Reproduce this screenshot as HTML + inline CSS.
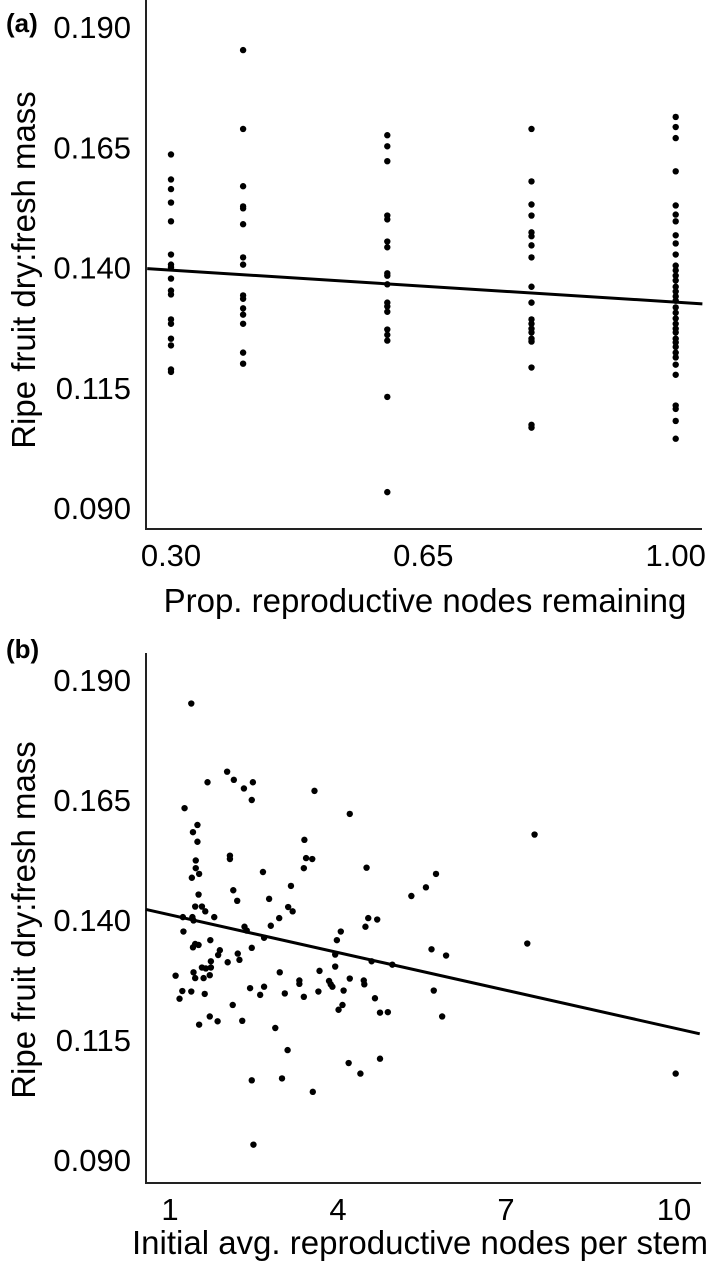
<!DOCTYPE html>
<html><head><meta charset="utf-8"><style>
html,body{margin:0;padding:0;background:#fff;}
svg{display:block;font-family:"Liberation Sans",Arial,sans-serif;}
</style></head><body>
<svg id="fig" width="709" height="1262" viewBox="0 0 709 1262" xmlns="http://www.w3.org/2000/svg">
<text x="6" y="32" font-size="26" font-weight="bold">(a)</text>
<text x="6" y="658" font-size="26" font-weight="bold">(b)</text>
<text transform="translate(35,270) rotate(-90)" text-anchor="middle" font-size="33">Ripe fruit dry:fresh mass</text>
<text transform="translate(35,920) rotate(-90)" text-anchor="middle" font-size="33">Ripe fruit dry:fresh mass</text>
<text x="425" y="612" text-anchor="middle" font-size="33">Prop. reproductive nodes remaining</text>
<text x="420" y="1254" text-anchor="middle" font-size="33">Initial avg. reproductive nodes per stem</text>
<g id="pa"></g>
<g id="pb"></g>
</svg>
<script>
const yTicks = [0.190, 0.165, 0.140, 0.115, 0.090];
const aTicks = [0.30, 0.65, 1.00];
const bTicks = [1, 4, 7, 10];
const aGroups = [0.3, 0.4, 0.6, 0.8, 1.0];
const aVals03 = [0.1635,0.1583,0.1563,0.1535,0.1496,0.1427,0.1406,0.140,0.1377,0.1352,0.1344,0.1292,0.1283,0.1252,0.1238,0.1188,0.1183];
const aVals04 = [0.1852,0.1688,0.1569,0.1527,0.1523,0.1490,0.1421,0.1406,0.1342,0.1335,0.1315,0.1302,0.1283,0.1223,0.1200];
const aVals06 = [0.1675,0.1652,0.1621,0.1508,0.1500,0.1454,0.1442,0.1388,0.1383,0.1365,0.1327,0.1319,0.1308,0.1271,0.1260,0.1248,0.1131,0.0933];
const aVals08 = [0.1688,0.1579,0.1531,0.1508,0.1473,0.1465,0.1446,0.1421,0.1360,0.1327,0.1292,0.1283,0.1273,0.1265,0.1252,0.1246,0.1192,0.1073,0.1067];
const aVals10 = [0.1713,0.1692,0.1669,0.1600,0.1529,0.1510,0.1496,0.1467,0.1450,0.1427,0.1404,0.1394,0.1383,0.1373,0.1360,0.1350,0.1340,0.1331,0.1317,0.1306,0.1294,0.1283,0.1273,0.1265,0.1252,0.1244,0.1235,0.1223,0.1213,0.1198,0.1177,0.1113,0.1106,0.1081,0.1044];
const aFit = [0.1423, -0.0095];
const bX = [1.38,1.26,1.67,2.02,2.14,2.32,2.48,2.46,3.58,4.21,1.49,1.41,1.49,3.40,3.43,3.54,3.39,4.51,2.07,2.07,1.46,1.46,1.52,1.39,2.66,5.75,5.57,5.31,3.16,2.13,2.20,2.77,1.51,1.45,1.57,1.63,1.79,3.11,3.19,2.95,1.23,1.40,1.42,2.80,2.33,2.37,4.54,4.70,4.49,1.24,4.05,3.98,2.68,1.72,1.45,1.51,1.41,2.46,1.89,1.86,2.21,2.24,2.03,1.73,3.95,5.67,5.93,4.60,4.97,1.57,1.64,1.73,3.95,1.42,1.45,1.60,1.71,1.10,2.96,3.67,3.31,3.31,3.84,3.87,3.90,4.21,4.46,4.47,2.43,2.68,2.61,1.22,1.38,1.17,1.62,3.05,3.39,3.65,4.10,5.71,4.66,2.12,4.08,4.01,4.75,4.89,5.86,1.71,1.85,1.52,2.29,2.88,3.10,4.19,4.40,4.75,2.46,3.00,3.55,2.49,7.38,7.51,10.03];
const bY = [0.1851,0.1633,0.1687,0.1709,0.1692,0.1674,0.1687,0.1650,0.1669,0.1621,0.1598,0.1583,0.1563,0.1567,0.1529,0.1527,0.1508,0.1509,0.1534,0.1527,0.1524,0.1508,0.1496,0.1488,0.1500,0.1496,0.1468,0.1450,0.1471,0.1462,0.1440,0.1444,0.1453,0.1428,0.1428,0.1418,0.1406,0.1427,0.1418,0.1404,0.1406,0.1406,0.1399,0.1388,0.1386,0.1378,0.1404,0.1401,0.1386,0.1376,0.1376,0.1358,0.1363,0.1358,0.1350,0.1348,0.1343,0.1342,0.1337,0.1327,0.1330,0.1317,0.1312,0.1314,0.1328,0.1339,0.1326,0.1314,0.1307,0.1301,0.1299,0.1301,0.1303,0.1291,0.1279,0.1279,0.1285,0.1284,0.1291,0.1294,0.1274,0.1267,0.1273,0.1266,0.1261,0.1278,0.1274,0.1266,0.1258,0.1261,0.1244,0.1252,0.1251,0.1236,0.1246,0.1247,0.1240,0.1251,0.1253,0.1253,0.1237,0.1223,0.1223,0.1213,0.1207,0.1208,0.1199,0.1199,0.1189,0.1182,0.1190,0.1175,0.1129,0.1102,0.1080,0.1111,0.1066,0.1070,0.1042,0.0932,0.1351,0.1578,0.1080];
const bFit = [0.1437, -0.00262];

const NS = "http://www.w3.org/2000/svg";
function mk(parent, tag, attrs){const e=document.createElementNS(NS,tag);for(const k in attrs)e.setAttribute(k,attrs[k]);parent.appendChild(e);return e;}
const yA = v => 27 + (0.190 - v) * 4810;
const xA = v => 171 + (v - 0.3) * 721;
const yB = v => 680 + (0.190 - v) * 4800;
const xB = v => 170 + (v - 1) * 56;

function axes(g, top, bottom, left, right, yf, xf, xt, xfmt, tag){
  let l=mk(g,'line',{x1:left,y1:top,x2:left,y2:bottom,stroke:'#222','stroke-width':2});
  
  
  l=mk(g,'line',{x1:left-1,y1:bottom,x2:right,y2:bottom,stroke:'#222','stroke-width':2});
  
  
  yTicks.forEach(v=>{const t=mk(g,'text',{x:131,y:yf(v)+11,'text-anchor':'end','font-size':31});t.textContent=v.toFixed(3);
    
    });
  xt.forEach(v=>{const t=mk(g,'text',{x:xf(v),y:bottom+37,'text-anchor':'middle','font-size':31});t.textContent=xfmt(v);
    
    });
}
const pa=document.getElementById('pa'), pb=document.getElementById('pb');
axes(pa,0,529,146,702,yA,xA,aTicks,v=>v.toFixed(2),'a');
axes(pb,653,1183,146,701,yB,xB,bTicks,v=>String(v),'b');

const aSets=[aVals03,aVals04,aVals06,aVals08,aVals10];
aSets.forEach((arr,i)=>arr.forEach(v=>{
  const c=mk(pa,'circle',{cx:xA(aGroups[i]),cy:yA(v),r:3.2,fill:'#000'});
  
  
}));
let f=mk(pa,'line',{x1:xA(0.267),y1:yA(aFit[0]+aFit[1]*0.267),x2:xA(1.037),y2:yA(aFit[0]+aFit[1]*1.037),stroke:'#000','stroke-width':3});



bX.forEach((x,i)=>{
  const c=mk(pb,'circle',{cx:xB(x),cy:yB(bY[i]),r:3.2,fill:'#000'});
  
  
});
f=mk(pb,'line',{x1:xB(0.57),y1:yB(bFit[0]+bFit[1]*0.57),x2:xB(10.46),y2:yB(bFit[0]+bFit[1]*10.46),stroke:'#000','stroke-width':3});


</script>
</body></html>
